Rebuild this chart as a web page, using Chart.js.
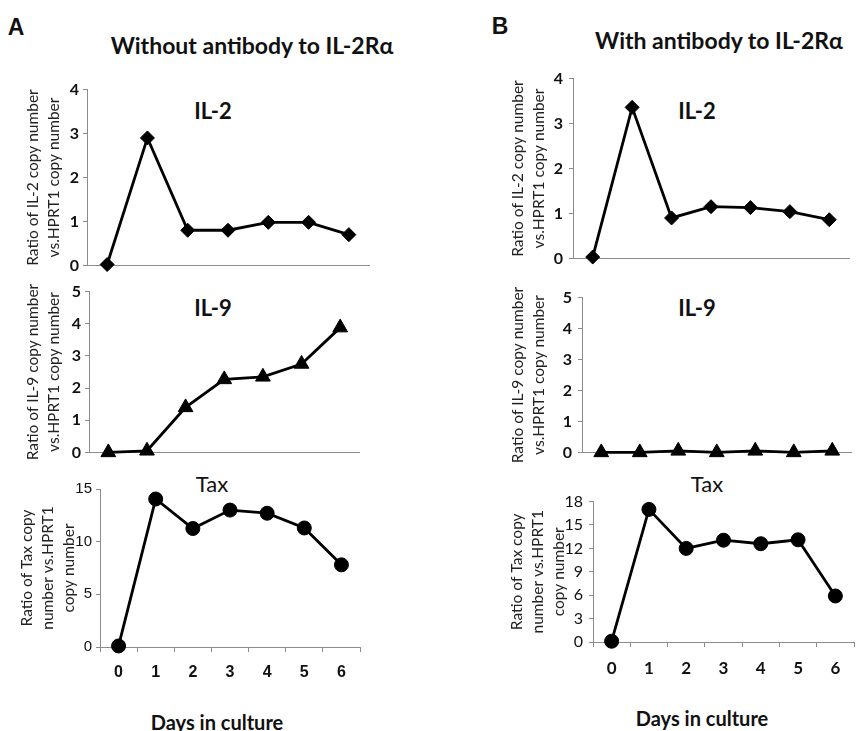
<!DOCTYPE html>
<html>
<head>
    <title>IL-2, IL-9 and Tax expression</title>
    <style>
        html, body { margin: 0; padding: 0; background: #fff; overflow: hidden; }
        #page { position: relative; width: 859px; height: 731px; overflow: hidden; }
        #page canvas { position: absolute; }
        .lbl { position: absolute; transform: translate(-50%, -50%); white-space: nowrap; color: #111; font-family: Lato, "Open Sans", sans-serif; }
        .big { font-family: "Liberation Sans", Arial, sans-serif; font-weight: bold; font-size: 23px; }
        .head { font-weight: bold; font-size: 23px; }
        .gene { font-weight: bold; font-size: 22px; }
        .days { font-weight: bold; font-size: 20px; }
    </style>
</head>
<body>
    <div id="page">
        <div class="lbl big" style="left:16px; top:27px;">A</div>
        <div class="lbl big" style="left:500px; top:26px;">B</div>
        <div class="lbl head" style="left:252px; top:45px;">Without antibody to IL-2Rα</div>
        <div class="lbl head" style="left:719px; top:40px;">With antibody to IL-2Rα</div>

        <div class="lbl gene" style="left:213px; top:110px;">IL-2</div>
        <div class="lbl gene" style="left:213px; top:307px;">IL-9</div>
        <div class="lbl gene" style="left:212px; top:483px; font-weight:normal;">Tax</div>
        <div class="lbl gene" style="left:697px; top:110px;">IL-2</div>
        <div class="lbl gene" style="left:697px; top:307px;">IL-9</div>
        <div class="lbl gene" style="left:707px; top:483px; font-weight:normal;">Tax</div>

        <div class="lbl days" style="left:217px; top:722px;">Days in culture</div>
        <div class="lbl days" style="left:702px; top:718px;">Days in culture</div>
    </div>

    <script src="https://cdn.jsdelivr.net/npm/chart.js"></script>
    <script>
        // Days in culture (x categories)
        const days = ['0', '1', '2', '3', '4', '5', '6'];

        // Without antibody to IL-2Ra (panel A)
        const il2Without = [0.02, 2.9, 0.8, 0.8, 0.98, 0.98, 0.7];
        const il9Without = [0, 0.05, 1.4, 2.27, 2.35, 2.75, 3.88];
        const taxWithout = [0.1, 14.05, 11.25, 13.0, 12.7, 11.3, 7.8];

        // With antibody to IL-2Ra (panel B)
        const il2With = [0.03, 3.36, 0.9, 1.15, 1.13, 1.04, 0.86];
        const il9With = [0, 0, 0.05, 0, 0.05, 0, 0.05];
        const taxWith = [0.1, 17, 12, 13.05, 12.6, 13.1, 5.9];

        // y axis titles
        const il2Title = ['Ratio of IL-2 copy number', 'vs.HPRT1 copy number'];
        const il9Title = ['Ratio of IL-9 copy number', 'vs.HPRT1 copy number'];
        const taxTitle = ['Ratio of Tax copy', 'number vs.HPRT1', 'copy number'];

        const axisColor = '#8c8c8c';
        const page = document.getElementById('page');

        // Build one small panel; the chart area is placed at left/top/right/bottom
        function makePanel(p) {
            const padTop = 12, padRight = 2;
            const xH = p.showX ? 40 : 12;
            const yW = p.axisX - p.canvasLeft;
            const canvas = document.createElement('canvas');
            const w = yW + (p.right - p.axisX) + padRight;
            const h = padTop + (p.bottom - p.top) + xH;
            canvas.width = w;
            canvas.height = h;
            canvas.style.left = p.canvasLeft + 'px';
            canvas.style.top = (p.top - padTop) + 'px';
            canvas.style.width = w + 'px';
            canvas.style.height = h + 'px';
            page.appendChild(canvas);

            const xScale = {
                type: 'category',
                offset: true,
                border: { display: true, color: axisColor, width: 1 },
                afterFit: s => { s.height = xH; }
            };
            if (p.showX) {
                xScale.grid = { display: true, drawOnChartArea: false, drawTicks: true, tickLength: 5, offset: true, color: axisColor };
                xScale.ticks = { padding: 11, color: '#111', font: p.xFont };
            } else {
                xScale.grid = { display: false };
                xScale.ticks = { display: false };
            }

            return new Chart(canvas.getContext('2d'), {
                type: 'line',
                data: {
                    labels: days,
                    datasets: [{
                        data: p.values,
                        borderColor: '#000',
                        backgroundColor: '#000',
                        borderWidth: 2.8,
                        pointStyle: p.marker,
                        pointRadius: p.radius,
                        pointBorderWidth: 1,
                        tension: 0,
                        clip: false
                    }]
                },
                options: {
                    responsive: false,
                    animation: false,
                    events: [],
                    layout: { padding: { top: padTop, right: padRight, left: 0, bottom: 0 } },
                    plugins: { legend: { display: false }, tooltip: { enabled: false } },
                    scales: {
                        x: xScale,
                        y: {
                            min: 0,
                            max: p.yMax,
                            border: { display: true, color: axisColor, width: 1 },
                            grid: { display: true, drawOnChartArea: false, drawTicks: true, tickLength: 4, color: axisColor },
                            ticks: { stepSize: p.step, padding: p.tickPad, color: '#111', font: p.yFont },
                            title: {
                                display: true,
                                text: p.title,
                                color: '#222',
                                font: { family: 'Lato', size: 15.5, lineHeight: '21px' },
                                padding: { top: p.labelX - p.canvasLeft - 10.5, bottom: 0 }
                            },
                            afterFit: s => { s.width = yW; }
                        }
                    }
                }
            });
        }

        const boldTick = { family: 'Lato', size: 16, weight: 'bold' };

        makePanel({ values: il2Without, marker: 'rectRot', radius: 7, title: il2Title,
            canvasLeft: 0, axisX: 87, top: 88, bottom: 267, right: 375, labelX: 33,
            yMax: 4, step: 1, tickPad: 4, yFont: boldTick, showX: false });
        makePanel({ values: il9Without, marker: 'triangle', radius: 8.5, title: il9Title,
            canvasLeft: 0, axisX: 89, top: 290, bottom: 454, right: 367, labelX: 33,
            yMax: 5, step: 1, tickPad: 4, yFont: boldTick, showX: false });
        makePanel({ values: taxWithout, marker: 'circle', radius: 7, title: taxTitle,
            canvasLeft: 0, axisX: 100, top: 488, bottom: 647, right: 366, labelX: 27,
            yMax: 15, step: 5, tickPad: 4,
            yFont: { family: 'Liberation Sans', size: 15 },
            xFont: { family: 'Liberation Sans', size: 16, weight: 'bold' }, showX: true });

        makePanel({ values: il2With, marker: 'rectRot', radius: 7, title: il2Title,
            canvasLeft: 430, axisX: 573, top: 75, bottom: 262, right: 855, labelX: 518,
            yMax: 4, step: 1, tickPad: 6, yFont: boldTick, showX: false });
        makePanel({ values: il9With, marker: 'triangle', radius: 8.5, title: il9Title,
            canvasLeft: 430, axisX: 582, top: 294, bottom: 456, right: 859, labelX: 518,
            yMax: 5, step: 1, tickPad: 6, yFont: boldTick, showX: false });
        makePanel({ values: taxWith, marker: 'circle', radius: 7, title: taxTitle,
            canvasLeft: 430, axisX: 593, top: 498, bottom: 642, right: 860, labelX: 517,
            yMax: 18, step: 3, tickPad: 6,
            yFont: { family: 'Lato', size: 16 },
            xFont: { family: 'Lato', size: 17, weight: 'bold' }, showX: true });
    </script>
</body>
</html>
